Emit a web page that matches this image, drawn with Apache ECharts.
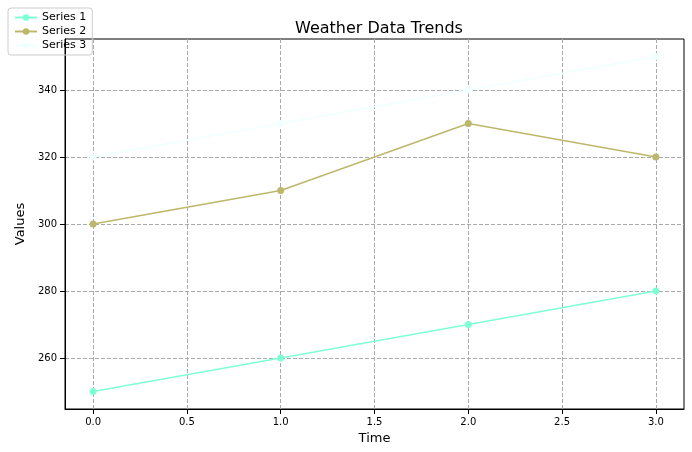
<!DOCTYPE html>
<html>
<head>
<meta charset="utf-8">
<script src="https://cdn.jsdelivr.net/npm/echarts@6/dist/echarts.min.js"></script>
<style>body{margin:0}#main{width:692px;height:452px}</style>
</head>
<body>
<div id="main"></div>
<script>
var timePoints = [0, 1, 2, 3];
var series1 = [250, 260, 270, 280];
var series2 = [300, 310, 330, 320];
var series3 = [320, 330, 340, 350];
var xTicks = [0, 0.5, 1, 1.5, 2, 2.5, 3];
var yTicks = [260, 280, 300, 320, 340];

function pairs(v) {
    return timePoints.map(function (t, i) { return [t, v[i]]; });
}
function line(name, color, v) {
    return {
        name: name, type: 'line', data: pairs(v), symbol: 'circle', symbolSize: 7,
        lineStyle: { color: color, width: 1.5 }, itemStyle: { color: color }
    };
}

var chart = echarts.init(document.getElementById('main'));
var option = {
    animation: false,
    textStyle: { fontFamily: 'DejaVu Sans' },
    title: {
        text: 'Weather Data Trends', left: 374, top: 16, textAlign: 'center',
        textStyle: { fontSize: 16, fontWeight: 'normal', color: '#000' }
    },
    legend: {
        left: 8, top: 8, orient: 'vertical', itemGap: 3, itemWidth: 22, itemHeight: 8,
        borderColor: '#ccc', borderWidth: 1, borderRadius: 3, padding: [4, 6],
        textStyle: { fontSize: 11, color: '#000' }
    },
    grid: { left: 65, right: 8, top: 39, bottom: 43, show: true, borderColor: '#000', borderWidth: 1 },
    xAxis: {
        type: 'value', min: -0.15, max: 3.15,
        name: 'Time', nameLocation: 'middle', nameGap: 22,
        nameTextStyle: { fontSize: 13, color: '#000' },
        axisLine: { onZero: false, lineStyle: { color: '#000' } },
        axisTick: { customValues: xTicks, lineStyle: { color: '#000' } },
        axisLabel: { customValues: xTicks, color: '#000', fontSize: 10,
            formatter: function (v) { return v.toFixed(1); } },
        splitLine: { show: true, lineStyle: { type: 'dashed', color: '#aaa' } }
    },
    yAxis: {
        type: 'value', min: 244.8, max: 355.2,
        name: 'Values', nameLocation: 'middle', nameGap: 38,
        nameTextStyle: { fontSize: 13, color: '#000' },
        axisLine: { show: true, onZero: false, lineStyle: { color: '#000' } },
        axisTick: { show: true, customValues: yTicks, lineStyle: { color: '#000' } },
        axisLabel: { customValues: yTicks, color: '#000', fontSize: 10 },
        splitLine: { show: true, lineStyle: { type: 'dashed', color: '#aaa' } }
    },
    series: [
        line('Series 1', '#7FFFD4', series1),
        line('Series 2', '#BDB76B', series2),
        line('Series 3', '#F0FFFF', series3)
    ]
};
chart.setOption(option);
</script>
</body>
</html>
